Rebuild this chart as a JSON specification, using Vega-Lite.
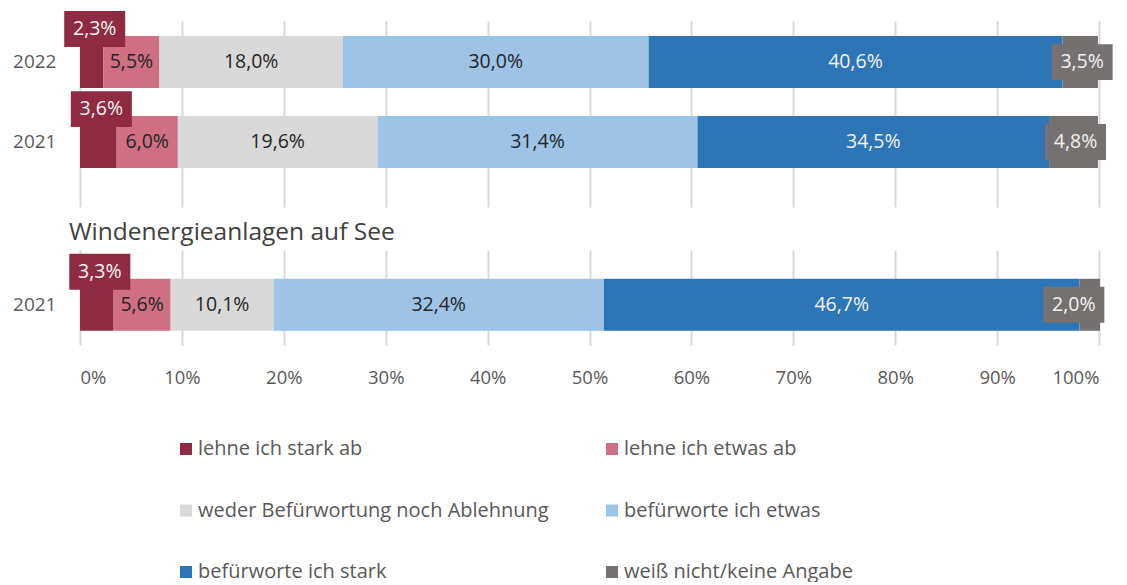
{
  "$schema": "https://vega.github.io/schema/vega-lite/v6.json",
  "padding": {"left": 12, "top": 11, "right": 5, "bottom": 0},
  "background": "white",
  "config": {
    "view": {"stroke": null},
    "font": "Open Sans",
    "concat": {"spacing": 12}
  },
  "datasets": {
    "d": [
      {"group": "Land", "year": "2022", "cat": "lehne ich stark ab", "order": 1, "value": 2.3},
      {"group": "Land", "year": "2022", "cat": "lehne ich etwas ab", "order": 2, "value": 5.5},
      {"group": "Land", "year": "2022", "cat": "weder Befürwortung noch Ablehnung", "order": 3, "value": 18.0},
      {"group": "Land", "year": "2022", "cat": "befürworte ich etwas", "order": 4, "value": 30.0},
      {"group": "Land", "year": "2022", "cat": "befürworte ich stark", "order": 5, "value": 40.6},
      {"group": "Land", "year": "2022", "cat": "weiß nicht/keine Angabe", "order": 6, "value": 3.5},
      {"group": "Land", "year": "2021", "cat": "lehne ich stark ab", "order": 1, "value": 3.6},
      {"group": "Land", "year": "2021", "cat": "lehne ich etwas ab", "order": 2, "value": 6.0},
      {"group": "Land", "year": "2021", "cat": "weder Befürwortung noch Ablehnung", "order": 3, "value": 19.6},
      {"group": "Land", "year": "2021", "cat": "befürworte ich etwas", "order": 4, "value": 31.4},
      {"group": "Land", "year": "2021", "cat": "befürworte ich stark", "order": 5, "value": 34.5},
      {"group": "Land", "year": "2021", "cat": "weiß nicht/keine Angabe", "order": 6, "value": 4.8},
      {"group": "See", "year": "2021", "cat": "lehne ich stark ab", "order": 1, "value": 3.3},
      {"group": "See", "year": "2021", "cat": "lehne ich etwas ab", "order": 2, "value": 5.6},
      {"group": "See", "year": "2021", "cat": "weder Befürwortung noch Ablehnung", "order": 3, "value": 10.1},
      {"group": "See", "year": "2021", "cat": "befürworte ich etwas", "order": 4, "value": 32.4},
      {"group": "See", "year": "2021", "cat": "befürworte ich stark", "order": 5, "value": 46.7},
      {"group": "See", "year": "2021", "cat": "weiß nicht/keine Angabe", "order": 6, "value": 2.0}
    ]
  },
  "data": {"name": "d"},
  "transform": [
    {"stack": "value", "groupby": ["group", "year"], "sort": [{"field": "order"}], "as": ["x0", "x1"]},
    {"calculate": "(datum.x0 + datum.x1) / 2", "as": "mid"},
    {"calculate": "replace(format(datum.value, '.1f'), '.', ',') + '%'", "as": "label"}
  ],
  "vconcat": [
    {
      "width": 1019,
      "height": 186,
      "transform": [{"filter": "datum.group === 'Land'"}],
      "encoding": {
        "y": {
          "field": "year", "type": "nominal", "sort": ["2022", "2021"],
          "scale": {"paddingInner": 0.35, "paddingOuter": 0.3375, "align": 0.28},
          "axis": {"title": null, "ticks": false, "domain": false, "labelFontSize": 19, "labelColor": "#595959", "labelPadding": 24, "minExtent": 67, "maxExtent": 67}
        }
      },
      "layer": [
        {
          "mark": {"type": "bar", "strokeWidth": 0},
          "encoding": {
            "x": {"field": "x0", "type": "quantitative", "scale": {"domain": [0, 100], "nice": false},
              "axis": {"title": null, "labels": false, "ticks": false, "domain": false, "grid": true, "gridColor": "#D9D9D9", "gridWidth": 2, "values": [0, 10, 20, 30, 40, 50, 60, 70, 80, 90, 100]}},
            "x2": {"field": "x1"},
            "color": {
              "field": "cat", "type": "nominal",
              "scale": {
                "domain": ["lehne ich stark ab", "lehne ich etwas ab", "weder Befürwortung noch Ablehnung", "befürworte ich etwas", "befürworte ich stark", "weiß nicht/keine Angabe"],
                "range": ["#8E2B43", "#CF6F83", "#D9D9D9", "#9DC3E6", "#2E75B6", "#767171"]
              },
              "legend": {"orient": "none", "legendX": 96, "legendY": 418, "columns": 2, "direction": "horizontal", "title": null, "symbolType": "square", "symbolSize": 144, "symbolStrokeWidth": 0, "labelFontSize": 20, "labelColor": "#595959", "labelOffset": 2, "labelLimit": 500, "rowPadding": 41.5, "columnPadding": 53}
            }
          }
        },
        {
          "transform": [{"filter": "datum.order >= 2 && datum.order <= 5"}],
          "mark": {"type": "text", "fontSize": 19.5, "align": "center", "baseline": "middle"},
          "encoding": {
            "x": {"field": "mid", "type": "quantitative"},
            "text": {"field": "label"},
            "color": {"condition": {"test": "datum.order === 5", "value": "#F2F2F2"}, "value": "#262626"}
          }
        },
        {
          "transform": [{"filter": "datum.order === 1"}],
          "mark": {"type": "point", "shape": "M-1,-0.59H1V0.59H-1Z", "size": 3721, "filled": true, "opacity": 1, "color": "#8E2B43", "strokeWidth": 0, "yOffset": -33, "xOffset": 3},
          "encoding": {"x": {"field": "mid", "type": "quantitative"}}
        },
        {
          "transform": [{"filter": "datum.order === 1"}],
          "mark": {"type": "text", "fontSize": 19.5, "align": "center", "baseline": "middle", "color": "#F2F2F2", "yOffset": -33, "xOffset": 3},
          "encoding": {"x": {"field": "mid", "type": "quantitative"}, "text": {"field": "label"}}
        },
        {
          "transform": [{"filter": "datum.order === 6"}],
          "mark": {"type": "point", "shape": "M-1,-0.59H1V0.59H-1Z", "size": 3721, "filled": true, "opacity": 1, "color": "#767171", "strokeWidth": 0, "xOffset": 2},
          "encoding": {"x": {"field": "mid", "type": "quantitative"}}
        },
        {
          "transform": [{"filter": "datum.order === 6"}],
          "mark": {"type": "text", "fontSize": 19.5, "align": "center", "baseline": "middle", "color": "#F2F2F2", "xOffset": 2},
          "encoding": {"x": {"field": "mid", "type": "quantitative"}, "text": {"field": "label"}}
        }
      ]
    },
    {
      "width": 1019,
      "height": 95,
      "title": {"text": "Windenergieanlagen auf See", "anchor": "start", "frame": "group", "fontSize": 24.5, "fontWeight": "normal", "color": "#404040", "dx": -11, "offset": 5},
      "transform": [{"filter": "datum.group === 'See'"}],
      "encoding": {
        "y": {
          "field": "year", "type": "nominal",
          "scale": {"paddingInner": 0.35, "paddingOuter": 0.269, "align": 0.67},
          "axis": {"title": null, "ticks": false, "domain": false, "labelFontSize": 19, "labelColor": "#595959", "labelPadding": 24, "minExtent": 67, "maxExtent": 67}
        }
      },
      "layer": [
        {
          "mark": {"type": "bar", "strokeWidth": 0},
          "encoding": {
            "x": {"field": "x0", "type": "quantitative", "scale": {"domain": [0, 100], "nice": false},
              "axis": {"title": null, "ticks": false, "domain": false, "grid": true, "gridColor": "#D9D9D9", "gridWidth": 2, "values": [0, 10, 20, 30, 40, 50, 60, 70, 80, 90, 100], "labelExpr": "datum.value + '%'", "labelFontSize": 18.5, "labelColor": "#595959", "labelPadding": 23}},
            "x2": {"field": "x1"},
            "color": {
              "field": "cat", "type": "nominal",
              "scale": {
                "domain": ["lehne ich stark ab", "lehne ich etwas ab", "weder Befürwortung noch Ablehnung", "befürworte ich etwas", "befürworte ich stark", "weiß nicht/keine Angabe"],
                "range": ["#8E2B43", "#CF6F83", "#D9D9D9", "#9DC3E6", "#2E75B6", "#767171"]
              },
              "legend": {"orient": "none", "legendX": 96, "legendY": 418, "columns": 2, "direction": "horizontal", "title": null, "symbolType": "square", "symbolSize": 144, "symbolStrokeWidth": 0, "labelFontSize": 20, "labelColor": "#595959", "labelOffset": 2, "labelLimit": 500, "rowPadding": 41.5, "columnPadding": 53}
            }
          }
        },
        {
          "transform": [{"filter": "datum.order >= 2 && datum.order <= 5"}],
          "mark": {"type": "text", "fontSize": 19.5, "align": "center", "baseline": "middle"},
          "encoding": {
            "x": {"field": "mid", "type": "quantitative"},
            "text": {"field": "label"},
            "color": {"condition": {"test": "datum.order === 5", "value": "#F2F2F2"}, "value": "#262626"}
          }
        },
        {
          "transform": [{"filter": "datum.order === 1"}],
          "mark": {"type": "point", "shape": "M-1,-0.59H1V0.59H-1Z", "size": 3721, "filled": true, "opacity": 1, "color": "#8E2B43", "strokeWidth": 0, "yOffset": -33, "xOffset": 3},
          "encoding": {"x": {"field": "mid", "type": "quantitative"}}
        },
        {
          "transform": [{"filter": "datum.order === 1"}],
          "mark": {"type": "text", "fontSize": 19.5, "align": "center", "baseline": "middle", "color": "#F2F2F2", "yOffset": -33, "xOffset": 3},
          "encoding": {"x": {"field": "mid", "type": "quantitative"}, "text": {"field": "label"}}
        },
        {
          "transform": [{"filter": "datum.order === 6"}],
          "mark": {"type": "point", "shape": "M-1,-0.59H1V0.59H-1Z", "size": 3721, "filled": true, "opacity": 1, "color": "#767171", "strokeWidth": 0, "xOffset": -16},
          "encoding": {"x": {"field": "mid", "type": "quantitative"}}
        },
        {
          "transform": [{"filter": "datum.order === 6"}],
          "mark": {"type": "text", "fontSize": 19.5, "align": "center", "baseline": "middle", "color": "#F2F2F2", "xOffset": -16},
          "encoding": {"x": {"field": "mid", "type": "quantitative"}, "text": {"field": "label"}}
        }
      ]
    }
  ],
  "resolve": {"scale": {"color": "shared"}}
}
